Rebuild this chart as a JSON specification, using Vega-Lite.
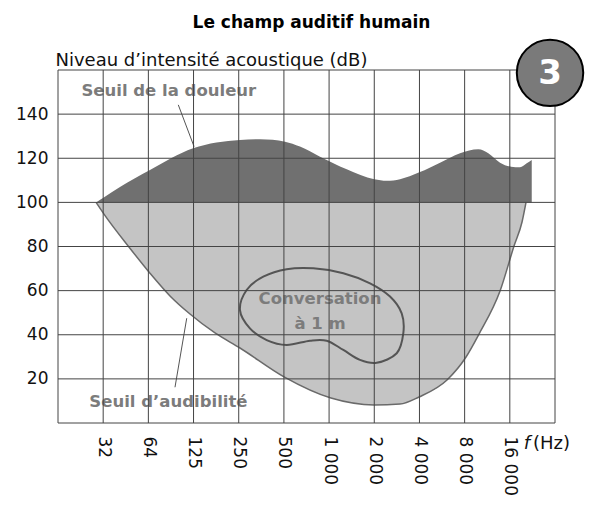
{
  "$schema": "https://vega.github.io/schema/vega-lite/v6.json",
  "width": 497,
  "height": 353,
  "autosize": {"type": "none"},
  "padding": {"left": 58, "top": 70, "right": 34, "bottom": 84},
  "background": "white",
  "config": {"view": {"stroke": null}, "font": "DejaVu Sans"},
  "title": {"text": "Le champ auditif humain", "anchor": "middle", "frame": "group", "fontSize": 17, "fontWeight": "bold", "font": "DejaVu Sans", "color": "#000000", "offset": 4, "dx": 5},
  "datasets": {
    "pain": [
      {"f": 28.7, "db": 100}, {"f": 32.1, "db": 102.1}, {"f": 41.4, "db": 107}, {"f": 65.6, "db": 114.7},
      {"f": 127, "db": 124.5}, {"f": 261, "db": 128.3}, {"f": 355, "db": 128.6}, {"f": 521, "db": 127.5},
      {"f": 655, "db": 125.3}, {"f": 891, "db": 120.7}, {"f": 1342, "db": 115}, {"f": 2050, "db": 110.5},
      {"f": 2478, "db": 109.8}, {"f": 3040, "db": 110.5}, {"f": 4088, "db": 113.6}, {"f": 5615, "db": 118},
      {"f": 7635, "db": 122.3}, {"f": 10107, "db": 124.1}, {"f": 11781, "db": 122.3}, {"f": 14098, "db": 118},
      {"f": 16691, "db": 116.2}, {"f": 19166, "db": 115.9}, {"f": 21234, "db": 117.7}, {"f": 22932, "db": 119.2}
    ],
    "aud": [
      {"f": 28.7, "db": 100}, {"f": 32.4, "db": 94.7}, {"f": 47.5, "db": 79.8}, {"f": 65.6, "db": 67.9},
      {"f": 89.2, "db": 57.6}, {"f": 121.2, "db": 49.4}, {"f": 177.9, "db": 40.8}, {"f": 261, "db": 34.0},
      {"f": 513, "db": 20.9}, {"f": 1054, "db": 11.3}, {"f": 2043, "db": 8.2}, {"f": 3040, "db": 8.6},
      {"f": 4069, "db": 11.8}, {"f": 6251, "db": 19.5}, {"f": 8370, "db": 29.9}, {"f": 10213, "db": 40.3},
      {"f": 14098, "db": 59.8}, {"f": 17474, "db": 80.2}, {"f": 19760, "db": 91.1}, {"f": 21002, "db": 100}
    ],
    "conv": [
      {"i": 0, "f": 261, "db": 51.2}, {"i": 1, "f": 289, "db": 60.3}, {"i": 2, "f": 373, "db": 66.3},
      {"i": 3, "f": 534, "db": 69.7}, {"i": 4, "f": 804, "db": 70.1}, {"i": 5, "f": 1274, "db": 67.9},
      {"i": 6, "f": 1919, "db": 63.3}, {"i": 7, "f": 2608, "db": 57.3}, {"i": 8, "f": 3119, "db": 49.7},
      {"i": 9, "f": 3198, "db": 40.7}, {"i": 10, "f": 2890, "db": 31.6}, {"i": 11, "f": 2126, "db": 27.3},
      {"i": 12, "f": 1645, "db": 28.6}, {"i": 13, "f": 1274, "db": 33.1}, {"i": 14, "f": 987, "db": 37.3},
      {"i": 15, "f": 764, "db": 37.3}, {"i": 16, "f": 534, "db": 35.4}, {"i": 17, "f": 393, "db": 37.6},
      {"i": 18, "f": 304, "db": 42.9}
    ],
    "labels": [
      {"f": 87.6, "db": 150.6, "t": "Seuil de la douleur"},
      {"f": 87.1, "db": 9.7, "t": "Seuil d’audibilité"},
      {"f": 891, "db": 56.1, "t": "Conversation"},
      {"f": 891, "db": 44.9, "t": "à 1 m"}
    ],
    "pointers": [
      {"f": 101.3, "db": 144.2, "f2": 129, "db2": 125.3},
      {"f": 115.3, "db": 47.5, "f2": 96.3, "db2": 16.2}
    ],
    "gridx": [{"f": 16}, {"f": 32}, {"f": 64}, {"f": 128}, {"f": 256}, {"f": 512}, {"f": 1024}, {"f": 2048}, {"f": 4096}, {"f": 8192}, {"f": 16384}, {"f": 32768}],
    "gridy": [{"db": 0}, {"db": 20}, {"db": 40}, {"db": 60}, {"db": 80}, {"db": 100}, {"db": 120}, {"db": 140}, {"db": 160}],
    "badge": [{"f": 30357, "db": 158.7, "t": "3"}],
    "unitf": [{"f": 21338, "db": -9.3, "t": "f"}],
    "unithz": [{"f": 23395, "db": -9.3, "t": "(Hz)"}]
  },
  "layer": [
    {
      "data": {"name": "aud"},
      "mark": {"type": "area", "interpolate": "monotone", "color": "#c4c4c4"},
      "encoding": {
        "x": {
          "field": "f", "type": "quantitative",
          "scale": {"type": "log", "base": 2, "domain": [16, 32768], "nice": false},
          "axis": {
            "values": [32, 64, 128, 256, 512, 1024, 2048, 4096, 8192, 16384],
            "labelExpr": "['32','64','125','250','500','1 000','2 000','4 000','8 000','16 000'][round(log(datum.value)/log(2)) - 5]",
            "labelAngle": 90, "labelFontSize": 17, "labelFont": "DejaVu Sans", "labelColor": "#111111",
            "labelPadding": 13, "ticks": false, "domain": false, "grid": false, "title": null,
            "labelOverlap": false, "labelFlush": false
          }
        },
        "y": {
          "field": "db", "type": "quantitative",
          "scale": {"domain": [0, 160], "nice": false},
          "axis": {
            "values": [20, 40, 60, 80, 100, 120, 140],
            "labelFontSize": 17, "labelFont": "DejaVu Sans", "labelColor": "#111111", "labelPadding": 10,
            "ticks": false, "domain": false, "grid": false,
            "title": "Niveau d’intensité acoustique (dB)", "titleAngle": 0, "titleX": -3, "titleY": -5,
            "titleAlign": "left", "titleBaseline": "alphabetic", "titleFontSize": 18, "titleFontWeight": "normal",
            "titleFont": "DejaVu Sans", "titleColor": "#111111"
          }
        },
        "y2": {"datum": 100}
      }
    },
    {
      "data": {"name": "pain"},
      "mark": {"type": "area", "interpolate": "monotone", "color": "#707070"},
      "encoding": {
        "x": {"field": "f", "type": "quantitative"},
        "y": {"field": "db", "type": "quantitative"},
        "y2": {"datum": 100}
      }
    },
    {
      "data": {"name": "aud"},
      "mark": {"type": "line", "interpolate": "monotone", "color": "#6a6a6a", "strokeWidth": 1.5},
      "encoding": {
        "x": {"field": "f", "type": "quantitative"},
        "y": {"field": "db", "type": "quantitative"}
      }
    },
    {
      "data": {"name": "conv"},
      "mark": {"type": "line", "interpolate": "cardinal-closed", "color": "#555555", "strokeWidth": 2},
      "encoding": {
        "x": {"field": "f", "type": "quantitative"},
        "y": {"field": "db", "type": "quantitative"},
        "order": {"field": "i", "type": "quantitative"}
      }
    },
    {
      "data": {"name": "labels"},
      "mark": {"type": "text", "font": "DejaVu Sans", "fontWeight": "bold", "fontSize": 16.5, "color": "#7c7c7c", "align": "center", "baseline": "middle"},
      "encoding": {
        "x": {"field": "f", "type": "quantitative"},
        "y": {"field": "db", "type": "quantitative"},
        "text": {"field": "t"}
      }
    },
    {
      "data": {"name": "pointers"},
      "mark": {"type": "rule", "color": "#555555", "strokeWidth": 1},
      "encoding": {
        "x": {"field": "f", "type": "quantitative"},
        "y": {"field": "db", "type": "quantitative"},
        "x2": {"field": "f2"},
        "y2": {"field": "db2"}
      }
    },
    {
      "data": {"name": "gridx"},
      "mark": {"type": "rule", "color": "#444444", "strokeWidth": 1},
      "encoding": {"x": {"field": "f", "type": "quantitative"}}
    },
    {
      "data": {"name": "gridy"},
      "mark": {"type": "rule", "color": "#444444", "strokeWidth": 1},
      "encoding": {"y": {"field": "db", "type": "quantitative"}}
    },
    {
      "data": {"name": "badge"},
      "mark": {"type": "point", "shape": "circle", "size": 4418, "filled": true, "fill": "#7a7a7a", "stroke": "#000000", "strokeWidth": 2, "opacity": 1},
      "encoding": {
        "x": {"field": "f", "type": "quantitative"},
        "y": {"field": "db", "type": "quantitative"}
      }
    },
    {
      "data": {"name": "badge"},
      "mark": {"type": "text", "font": "DejaVu Sans", "fontWeight": "bold", "fontSize": 34, "color": "#ffffff", "align": "center", "baseline": "middle", "dy": 1},
      "encoding": {
        "x": {"field": "f", "type": "quantitative"},
        "y": {"field": "db", "type": "quantitative"},
        "text": {"field": "t"}
      }
    },
    {
      "data": {"name": "unitf"},
      "mark": {"type": "text", "font": "DejaVu Sans", "fontStyle": "italic", "fontSize": 18, "color": "#111111", "align": "center", "baseline": "middle"},
      "encoding": {
        "x": {"field": "f", "type": "quantitative"},
        "y": {"field": "db", "type": "quantitative"},
        "text": {"field": "t"}
      }
    },
    {
      "data": {"name": "unithz"},
      "mark": {"type": "text", "font": "DejaVu Sans", "fontSize": 18, "color": "#111111", "align": "left", "baseline": "middle"},
      "encoding": {
        "x": {"field": "f", "type": "quantitative"},
        "y": {"field": "db", "type": "quantitative"},
        "text": {"field": "t"}
      }
    }
  ]
}
